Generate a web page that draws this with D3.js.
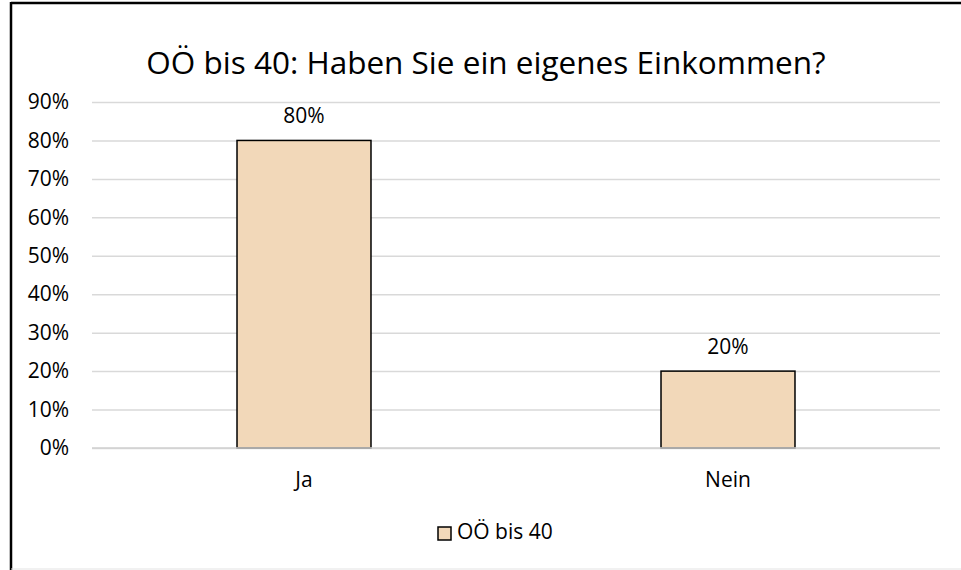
<!DOCTYPE html>
<html><head><meta charset="utf-8">
<script src="https://cdn.jsdelivr.net/npm/d3@7"></script>
<style>
html,body{margin:0;padding:0;background:#fff;}
svg{display:block;font-family:"Open Sans","Liberation Sans",sans-serif;}
</style></head>
<body>
<script>
const title = "OÖ bis 40: Haben Sie ein eigenes Einkommen?";
const categories = ["Ja", "Nein"];
const seriesName = "OÖ bis 40";
const values = [0.80, 0.20];
const yTicks = [0, 0.1, 0.2, 0.3, 0.4, 0.5, 0.6, 0.7, 0.8, 0.9];

const W = 961, H = 570;
const FONT = "'Open Sans','Liberation Sans',sans-serif";
const svg = d3.select("body").append("svg").attr("width", W).attr("height", H);
svg.append("rect").attr("width", W).attr("height", H).attr("fill", "#fff");

// chart frame
svg.append("line").attr("x1", 11).attr("x2", W).attr("y1", 3).attr("y2", 3).attr("stroke", "#000").attr("stroke-width", 2.5);
svg.append("line").attr("x1", 11).attr("x2", 11).attr("y1", 2).attr("y2", H).attr("stroke", "#000").attr("stroke-width", 2.5);
svg.append("line").attr("x1", 11).attr("x2", W).attr("y1", 569).attr("y2", 569).attr("stroke", "#e3e3e3").attr("stroke-width", 1);

const plot = {left: 92, right: 940, top: 102, bottom: 448};
const y = d3.scaleLinear().domain([0, 0.9]).range([plot.bottom, plot.top]);
const x = d3.scaleBand().domain(categories).range([plot.left, plot.right]).paddingInner(0.684).paddingOuter(0.342);

// title
svg.append("text").attr("x", 486).attr("y", 74).attr("text-anchor", "middle")
  .attr("font-size", 31.5).attr("fill", "#000").text(title);

// gridlines + y labels
const yAxis = d3.axisLeft(y).tickValues(yTicks).tickFormat(d3.format(".0%")).tickSize(-(plot.right - plot.left)).tickPadding(23);
const gy = svg.append("g").attr("transform", `translate(${plot.left},0)`).call(yAxis);
gy.select(".domain").remove();
gy.selectAll(".tick line").attr("stroke", "#d9d9d9").attr("stroke-width", 1.5);
gy.selectAll(".tick text").attr("font-size", 21).attr("fill", "#000").attr("font-family", FONT);

// bars
svg.selectAll("rect.bar").data(values).enter().append("rect").attr("class", "bar")
  .attr("x", (d, i) => x(categories[i]))
  .attr("width", x.bandwidth())
  .attr("y", d => y(d))
  .attr("height", d => y(0) - y(d))
  .attr("fill", "#f2d8b9").attr("stroke", "#000").attr("stroke-width", 1.5);

// baseline
svg.append("line").attr("x1", plot.left).attr("x2", plot.right).attr("y1", y(0)).attr("y2", y(0)).attr("stroke", "#d0d0d0").attr("stroke-width", 1.5);

// data labels
svg.selectAll("text.dl").data(values).enter().append("text").attr("class", "dl")
  .attr("x", (d, i) => x(categories[i]) + x.bandwidth() / 2)
  .attr("y", d => y(d) - 17)
  .attr("text-anchor", "middle").attr("font-size", 21).attr("fill", "#000")
  .text(d => d3.format(".0%")(d));

// x axis labels
const xAxis = d3.axisBottom(x).tickSize(0).tickPadding(24);
const gx = svg.append("g").attr("transform", `translate(0,${plot.bottom})`).call(xAxis);
gx.select(".domain").remove();
gx.selectAll(".tick text").attr("font-size", 21).attr("fill", "#000").attr("font-family", FONT);

// legend
const lg = svg.append("g").attr("transform", "translate(438,527)");
lg.append("rect").attr("width", 13).attr("height", 13).attr("fill", "#f2d8b9").attr("stroke", "#000").attr("stroke-width", 1.5);
lg.append("text").attr("x", 19).attr("y", 12).attr("font-size", 21).attr("fill", "#000").text(seriesName);
</script>
</body></html>
